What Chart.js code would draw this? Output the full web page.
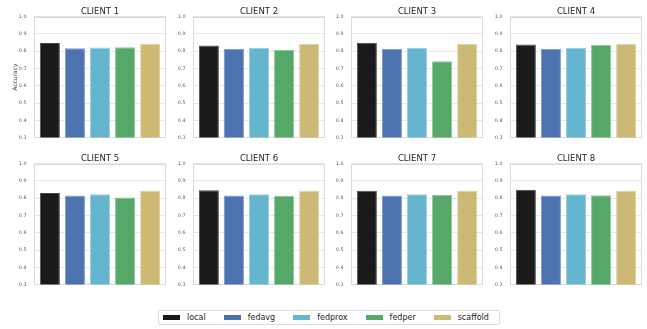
<!DOCTYPE html>
<html>
<head>
<meta charset="utf-8">
<script src="https://cdn.jsdelivr.net/npm/chart.js@4.4.1/dist/chart.umd.min.js"></script>
<style>
  html, body { margin: 0; padding: 0; background: #ffffff; }
  body { width: 647px; height: 329px; position: relative; overflow: hidden;
         font-family: "DejaVu Sans", sans-serif; }
  .panel { position: absolute; }
  #legend { position: absolute; left: 158px; top: 310px; height: 13px; width: 336px;
            border: 1px solid #dcdcdc; border-radius: 2px; display: flex; align-items: center;
            box-sizing: content-box; padding-left: 4px; }
  .item { display: flex; align-items: center; margin-right: 18px; }
  .swatch { width: 17px; height: 5px; margin-right: 7px; }
  .lbl { font-size: 8px; color: #262626; line-height: 8px; }
</style>
</head>
<body>
<div id="legend"></div>
<script>
// Accuracy per client for each training method
const clients  = ['CLIENT 1', 'CLIENT 2', 'CLIENT 3', 'CLIENT 4', 'CLIENT 5', 'CLIENT 6', 'CLIENT 7', 'CLIENT 8'];
const methods  = ['local', 'fedavg', 'fedprox', 'fedper', 'scaffold'];
const local    = [0.847, 0.833, 0.849, 0.838, 0.829, 0.845, 0.843, 0.849];
const fedavg   = [0.816, 0.814, 0.814, 0.814, 0.815, 0.815, 0.815, 0.815];
const fedprox  = [0.821, 0.818, 0.819, 0.820, 0.822, 0.822, 0.822, 0.822];
const fedper   = [0.822, 0.806, 0.742, 0.836, 0.803, 0.813, 0.818, 0.817];
const scaffold = [0.843, 0.841, 0.841, 0.842, 0.843, 0.843, 0.843, 0.843];
const yTicks   = [0.3, 0.4, 0.5, 0.6, 0.7, 0.8, 0.9, 1.0];

const series = [local, fedavg, fedprox, fedper, scaffold];
const colors  = ['#1a1a1a', '#4c72b0', '#64b5cd', '#55a868', '#ccb974'];
const borders = ['#4a4a4a', '#7d9acb', '#9bcfe0', '#8cc79c', '#ddd0a0'];

// Outline around each plotting area
const frame = {
  id: 'frame',
  beforeDatasetsDraw(chart) {
    const {ctx, chartArea: a} = chart;
    ctx.save();
    ctx.strokeStyle = '#dadada';
    ctx.lineWidth = 1;
    ctx.strokeRect(Math.round(a.left) + 0.5, Math.round(a.top) + 0.5,
                   Math.round(a.right - a.left) - 1, Math.round(a.bottom - a.top) - 1);
    ctx.restore();
  }
};

const PLOT_W = 132, AXIS_W = 34, COL_STEP = 158.5;
const ROW_TOP = [0, 147];

clients.forEach((name, i) => {
  const col = i % 4, row = Math.floor(i / 4);
  const cv = document.createElement('canvas');
  cv.className = 'panel';
  const left = Math.round(34 + col * COL_STEP - AXIS_W);
  const w = AXIS_W + PLOT_W + AXIS_W, h = 148;
  cv.style.left = left + 'px';
  cv.style.top = ROW_TOP[row] + 'px';
  cv.style.width = w + 'px';
  cv.style.height = h + 'px';
  cv.width = w; cv.height = h;
  document.body.appendChild(cv);

  new Chart(cv, {
    type: 'bar',
    data: {
      labels: [''],
      datasets: methods.map((m, k) => ({
        label: m,
        data: [series[k][i]],
        backgroundColor: colors[k],
        borderColor: borders[k],
        borderWidth: 1,
        categoryPercentage: 0.95,
        barPercentage: 0.8
      }))
    },
    options: {
      responsive: false,
      animation: false,
      devicePixelRatio: 1,
      layout: { padding: { left: 0, right: 0, top: 0, bottom: 3.2 } },
      plugins: {
        legend: { display: false },
        tooltip: { enabled: false },
        title: {
          display: true,
          text: name,
          color: '#262626',
          font: { family: 'DejaVu Sans', size: 8.5, weight: 'normal', lineHeight: 1 },
          padding: { top: 7.25, bottom: 0.75 }
        }
      },
      scales: {
        x: { display: false },
        y: {
          min: 0.3, max: 1.0,
          afterBuildTicks(scale) { scale.ticks = yTicks.map(v => ({ value: v })); },
          afterFit(scale) { scale.width = AXIS_W; },
          ticks: {
            padding: 7.5,
            color: '#555555',
            font: { family: 'DejaVu Sans', size: 4.8 },
            callback: v => Number(v).toFixed(1)
          },
          grid: { color: '#e6e6e6', drawTicks: false, lineWidth: 1 },
          border: { display: false },
          title: {
            display: i === 0,
            text: 'Accuracy',
            color: '#444444',
            font: { family: 'DejaVu Sans', size: 6, lineHeight: 1.2 },
            padding: { top: 11.4, bottom: 0 }
          }
        },
        // empty right-hand margin so the panel title centres over the plot
        yRight: {
          position: 'right',
          min: 0.3, max: 1.0,
          afterFit(scale) { scale.width = AXIS_W; },
          ticks: { display: false },
          grid: { display: false },
          border: { display: false }
        }
      }
    },
    plugins: [frame]
  });
});

// Shared legend below the panels
const legend = document.getElementById('legend');
methods.forEach((m, k) => {
  const it = document.createElement('div');
  it.className = 'item';
  const sw = document.createElement('div');
  sw.className = 'swatch';
  sw.style.background = colors[k];
  const tx = document.createElement('span');
  tx.className = 'lbl';
  tx.textContent = m;
  it.appendChild(sw); it.appendChild(tx);
  legend.appendChild(it);
});
</script>
</body>
</html>
